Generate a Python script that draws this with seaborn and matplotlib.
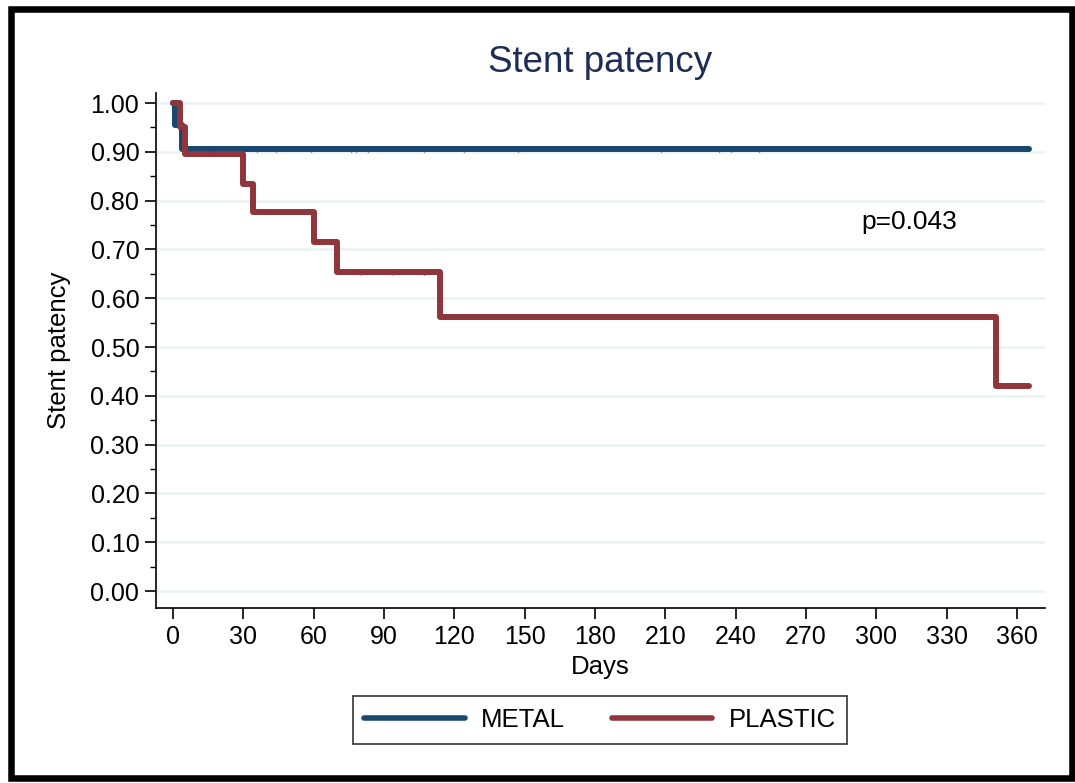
import numpy as np
import pandas as pd
import matplotlib
matplotlib.use("Agg")
import matplotlib.pyplot as plt
import matplotlib.patches as patches
from matplotlib.ticker import MultipleLocator, FormatStrFormatter
import seaborn as sns

# Kaplan-Meier step values
metal_days = [0, 1, 4, 365]
metal_surv = [1.0, 0.955, 0.905, 0.905]
metal_censored = [18, 36, 44, 59, 76, 78, 83, 107, 124, 147, 208, 233, 238, 250]

plastic_days = [0, 3, 5, 30, 34, 60, 70, 114, 351, 365]
plastic_surv = [1.0, 0.95, 0.895, 0.835, 0.777, 0.716, 0.653, 0.561, 0.42, 0.42]
plastic_censored = [80, 94, 107]

groups = ["METAL", "PLASTIC"]
colors = {"METAL": "#1a476f", "PLASTIC": "#90353b"}
x_ticks = list(range(0, 361, 30))
p_text = "p=0.043"


def step_value(days, surv, t):
    i = np.searchsorted(days, t, side="right") - 1
    return surv[i]


sns.set_theme(style="white")
plt.rcParams["font.family"] = ["Liberation Sans", "DejaVu Sans"]

df = pd.concat([
    pd.DataFrame({"Days": metal_days, "surv": metal_surv, "group": "METAL"}),
    pd.DataFrame({"Days": plastic_days, "surv": plastic_surv, "group": "PLASTIC"}),
])

fig = plt.figure(figsize=(10.75, 7.83), dpi=100)
fig.patch.set_facecolor("white")
ax = fig.add_axes([156 / 1075, 1 - 608 / 783, (1045 - 156) / 1075, (608 - 93) / 783])

sns.lineplot(data=df, x="Days", y="surv", hue="group", palette=colors,
             hue_order=groups, drawstyle="steps-post", estimator=None,
             sort=False, linewidth=4.3, ax=ax, legend=False)

# censoring ticks (small, barely above the line)
for days, surv, cens, g in [(metal_days, metal_surv, metal_censored, "METAL"),
                            (plastic_days, plastic_surv, plastic_censored, "PLASTIC")]:
    ys = [step_value(days, surv, t) for t in cens]
    ax.plot(cens, ys, linestyle="none", marker="|", ms=5, mew=1.0,
            color=colors[g], zorder=5)

ax.set_xlim(-7.25, 372)
ax.set_ylim(-0.0348, 1.0205)
ax.set_xticks(x_ticks)
ax.yaxis.set_major_locator(MultipleLocator(0.1))
ax.yaxis.set_minor_locator(MultipleLocator(0.05))
ax.yaxis.set_major_formatter(FormatStrFormatter("%.2f"))
ax.tick_params(axis="both", which="major", labelsize=18, length=8,
               width=1.2, color="black", labelcolor="black", pad=4,
               left=True, bottom=True)
ax.tick_params(axis="y", which="minor", length=4, width=1.0, color="black", left=True)

ax.grid(axis="y", which="major", color="#eaf2f3", linewidth=1.8)
ax.grid(axis="x", visible=False)
ax.set_axisbelow(True)
for side in ["top", "right"]:
    ax.spines[side].set_visible(False)
for side in ["left", "bottom"]:
    ax.spines[side].set_color("black")
    ax.spines[side].set_linewidth(1.2)

ax.set_xlabel("Days", fontsize=18.5, color="black")
ax.set_ylabel("Stent patency", fontsize=18.5, color="black")
ax.xaxis.set_label_coords(0.5, -0.091)
ax.yaxis.set_label_coords(-0.096, 0.5)

ax.text(314, 0.756, p_text, fontsize=19, ha="center", va="center", color="black")

fig.text(600 / 1075, 1 - 62 / 783, "Stent patency", fontsize=26.5,
         color="#1e2d56", ha="center", va="center")

handles = [plt.Line2D([], [], color=colors[g], linewidth=4.0) for g in groups]
leg = fig.legend(handles, groups, loc="center", ncol=2,
                 bbox_to_anchor=(600 / 1075, 1 - 720 / 783),
                 fontsize=18.5, frameon=True, fancybox=False,
                 handlelength=3.9, handletextpad=0.65, columnspacing=1.8,
                 borderpad=0.45, borderaxespad=0)
leg.get_frame().set_edgecolor("black")
leg.get_frame().set_linewidth(1.2)
for t in leg.get_texts():
    t.set_color("black")

fig.patches.append(patches.Rectangle((11 / 1075, 1 - 778 / 783),
                                     (1072 - 11) / 1075, (778 - 8.5) / 783,
                                     transform=fig.transFigure, fill=False,
                                     edgecolor="black", linewidth=4.7))

fig.savefig("out.png", dpi=100, facecolor="white")
